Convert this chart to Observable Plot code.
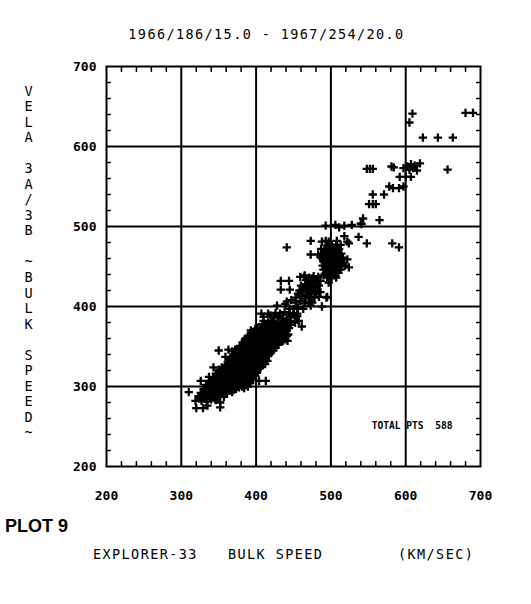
<!DOCTYPE html>
<html><head><meta charset="utf-8">
<script src="https://cdn.jsdelivr.net/npm/d3@7"></script>
<script src="https://cdn.jsdelivr.net/npm/@observablehq/plot@0.6"></script>
<style>
body{margin:0;background:#fff;width:531px;height:604px;position:relative;overflow:hidden;font-family:"DejaVu Sans Mono",monospace;color:#000}
.t{position:absolute;white-space:pre;line-height:1}
.m{font-size:13.5px;letter-spacing:1.4px}
</style></head><body>
<div class="t m" style="left:0;width:533px;top:28px;text-align:center">1966/186/15.0 - 1967/254/20.0</div>
<div id="chart" style="position:absolute;left:0;top:50px"></div>
<div class="t" style="left:5px;top:516px;font:bold 18px 'Liberation Sans',Arial,sans-serif">PLOT 9</div>
<div class="t m" style="left:93px;top:548px">EXPLORER-33</div>
<div class="t m" style="left:228px;top:548px">BULK SPEED</div>
<div class="t m" style="left:398px;top:548px">(KM/SEC)</div>
<script>
const title = "1966/186/15.0 - 1967/254/20.0";
const yLabelChars = ["V","E","L","A","","3","A","/","3","B","","~","B","U","L","K","","S","P","E","E","D","~"];
const totalLabel = "TOTAL PTS  588";
const majorTicks = [200, 300, 400, 500, 600, 700];
const gridValues = [300, 400, 500, 600];
const minorTicks = [220,240,260,280,320,340,360,380,420,440,460,480,520,540,560,580,620,640,660,680];

// [Explorer-33 speed, Vela speed] in km/sec
const sparseHigh = [
  [609,641],[605,630],[680,642],[690,642],[623,611],[643,611],[663,611],[656,571],
  [548,572],[552,572],[556,572],[581,575],[584,574],[597,573],[602,575],[607,578],[612,576],[619,579],[615,570],[605,571],[610,573],
  [592,562],[600,562],[607,562],[578,550],[583,548],[591,548],[597,550],
  [556,540],[571,540],[551,528],[556,528],[560,528],[543,510],[540,504],[565,508],
  [493,501],[506,502],[511,499],[518,501],[528,502],[541,503]
];
const upperEdge = [
  [582,479],[591,474],[537,487],[548,479],[518,488],[524,479],[522,481],[441,474],
  [473,482],[488,481],[493,482],[497,481],[508,482],[473,465],[483,465],[487,472],[486,462],[524,449],[522,459],[497,430]
];
const upperCluster = [
  [495,436],[501,437],[507,436],
  [492,441],[498,442],[504,441],[510,442],
  [490,446],[496,447],[502,446],[508,447],[513,446],
  [489,451],[495,452],[501,451],[507,452],[513,451],[519,451],
  [490,456],[496,457],[502,456],[508,457],[514,456],
  [492,461],[498,462],[504,461],[510,462],[516,461],
  [490,466],[496,467],[502,466],[508,467],[514,466],
  [493,471],[499,472],[505,471],[511,472],
  [495,476],[501,477],[507,476],[513,477]
];
const upperFill = [
  [498,439],[504,439],
  [495,444],[501,444],[507,444],
  [493,449],[499,449],[505,449],[511,449],
  [492,454],[498,454],[504,454],[510,454],[516,454],
  [489,459],[495,459],[501,459],[507,459],[513,459],
  [493,464],[499,464],[505,464],[511,464],
  [491,469],[497,469],[503,469],[509,469],
  [497,474],[503,474],[509,474]
];
const midCluster = [
  [407,391],[416,391],[426,392],[432,391],[438,393],[444,390],[450,392],[455,391],
  [428,401],[439,403],[445,397],[450,397],[456,398],[463,397],[473,401],[488,400],
  [441,406],[447,408],[453,405],[459,407],[465,404],[471,406],[475,405],
  [453,411],[460,413],[466,410],[472,412],[478,411],[484,412],[494,411],[495,412],
  [456,416],[462,418],[468,415],[474,417],[480,416],[486,418],
  [433,421],[445,421],[458,420],[464,422],[470,421],[476,423],[482,420],
  [460,426],[466,428],[472,425],[478,427],[484,426],
  [433,432],[444,432],[470,430],[480,430],[486,432],[475,435],[464,437],
  [459,437],[465,439],[471,436],[477,438],[483,437],[490,439],
  [463,423],[469,424],[475,420],[481,424],[467,433],[473,432],[479,434]
];
const band = [
  [320,273],[329,273],[335,276],[352,274],
  [319,282],[327,282],[334,281],[340,284],[346,283],[352,280],
  [323,288],[330,287],[337,289],[344,286],[351,288],[357,287],
  [310,293],[326,292],[333,291],[340,293],[347,292],[354,294],[361,291],[368,293],
  [330,297],[336,299],[342,296],[349,298],[356,297],[363,299],[370,296],[377,299],[384,298],
  [333,302],[339,304],[343,305],[346,301],[352,303],[359,302],[366,304],[372,301],[379,303],[386,302],[392,304],
  [326,307],[337,307],[343,309],[350,306],[356,308],[362,307],[369,309],[375,306],[382,308],[388,307],[395,309],[404,307],[413,307],
  [337,312],[343,311],[349,313],[355,310],[361,312],[368,311],[374,313],[381,310],[387,312],[393,311],[399,313],
  [346,316],[352,318],[358,315],[364,317],[371,316],[377,318],[383,315],[388,318],[395,316],[401,317],
  [350,321],[356,323],[362,320],[368,322],[375,321],[381,323],[387,320],[393,322],[399,321],[405,323],
  [343,324],[354,324],[359,326],[365,325],[371,327],[377,324],[383,326],[390,325],[396,327],[402,324],[408,326],
  [362,330],[368,332],[374,329],[380,331],[386,330],[392,332],[398,329],[404,331],[410,330],[415,332],
  [359,337],[366,335],[372,337],[378,334],[384,336],[390,335],[396,337],[402,334],[408,336],[413,335],
  [370,340],[376,342],[382,339],[388,341],[394,340],[400,342],[406,339],[412,341],[417,340],[414,343],
  [350,345],[363,346],[372,346],[368,344],[375,347],[381,345],[387,344],[393,346],[399,345],[405,347],[411,344],[417,346],[423,345],
  [379,350],[385,349],[391,351],[397,350],[403,352],[409,349],[415,351],[421,350],[427,352],
  [382,355],[388,357],[394,354],[400,356],[406,355],[412,357],[418,354],[424,356],[430,355],[436,357],[442,357],
  [386,360],[392,362],[398,359],[404,361],[410,360],[416,362],[422,359],[428,361],[434,360],[441,363],
  [395,365],[401,367],[407,364],[413,366],[419,365],[425,367],[431,364],[437,366],[443,365],
  [393,370],[399,372],[405,369],[411,371],[417,370],[423,372],[429,369],[435,371],[441,370],
  [406,374],[412,376],[418,375],[424,377],[430,374],[436,376],[442,375],[446,377],[461,375],
  [410,382],[416,380],[422,382],[428,379],[434,381],[440,380],[446,382],[452,380],[457,382],
  [410,387],[419,389],[424,386],[430,388],[436,385],[441,383],[446,387],[453,386],[455,388]
];
const bandFill = [
  [324,285],[331,285],[338,286],[345,285],
  [329,290],[336,290],[343,290],[350,290],[357,290],
  [333,295],[339,294],[346,295],[352,296],[359,295],[366,296],[373,297],
  [336,300],[343,299],[349,300],[356,300],[362,300],[369,299],[375,300],[381,300],[389,300],
  [340,305],[347,304],[353,305],[360,305],[366,306],[372,304],[379,305],[385,305],[391,306],
  [346,310],[352,310],[358,309],[365,310],[371,310],[378,309],[384,310],[390,309],[396,309],
  [349,314],[355,314],[361,313],[367,314],[374,314],[380,313],[386,314],[392,314],[398,315],
  [353,319],[359,318],[365,319],[372,319],[378,319],[384,318],[390,319],[396,319],[402,320],
  [359,322],[365,323],[371,323],[378,322],[384,323],[390,322],[396,323],[402,322],
  [365,328],[371,328],[377,327],[383,328],[389,328],[395,327],[401,328],[407,328],[412,328],
  [365,333],[371,333],[377,332],[383,333],[389,333],[395,333],[401,332],[407,333],[412,333],
  [369,338],[375,338],[381,337],[387,338],[393,338],[399,338],[405,337],[411,338],[416,338],
  [373,343],[379,343],[385,343],[391,343],[397,343],[403,343],[409,343],[415,343],[420,343],
  [382,348],[388,348],[394,348],[400,348],[406,348],[412,347],[418,348],[424,348],
  [382,352],[388,352],[394,352],[400,353],[406,352],[412,352],[418,352],[424,353],[430,352],
  [385,358],[391,359],[397,357],[403,358],[409,358],[415,359],[421,357],[427,358],[433,358],[439,359],
  [389,363],[395,364],[401,362],[407,363],[413,363],[419,364],[425,362],[431,363],[437,363],
  [396,368],[402,369],[408,367],[414,368],[420,368],[426,369],[432,367],[438,368],
  [402,373],[408,373],[414,373],[420,374],[426,372],[432,373],[438,373],[444,373],
  [408,378],[414,378],[420,379],[426,377],[432,378],[438,378],[444,379]
];

const points = [...sparseHigh, ...upperEdge, ...upperCluster, ...upperFill, ...midCluster, ...band, ...bandFill].map(([x, y]) => ({x, y}));
const yLabel = yLabelChars.map(c => c === "" ? "\u00a0" : c).join("\n");
const txt = {fontFamily: "'DejaVu Sans Mono', monospace"};

const chart = Plot.plot({
  width: 531, height: 460,
  marginTop: 16, marginBottom: 44, marginLeft: 106, marginRight: 51,
  x: {domain: [200, 700]},
  y: {domain: [200, 700]},
  style: {fontFamily: "'DejaVu Sans Mono', monospace", color: "black", background: "white", overflow: "visible"},
  marks: [
    Plot.gridX(gridValues, {stroke: "black", strokeOpacity: 1, strokeWidth: 2}),
    Plot.gridY(gridValues, {stroke: "black", strokeOpacity: 1, strokeWidth: 2}),
    Plot.axisX(minorTicks, {anchor: "bottom", tickSize: -5, strokeWidth: 1.5, tickFormat: () => "", label: null}),
    Plot.axisX(minorTicks, {anchor: "top", tickSize: -5, strokeWidth: 1.5, tickFormat: () => "", label: null}),
    Plot.axisY(minorTicks, {anchor: "left", tickSize: -5, strokeWidth: 1.5, tickFormat: () => "", label: null}),
    Plot.axisY(minorTicks, {anchor: "right", tickSize: -5, strokeWidth: 1.5, tickFormat: () => "", label: null}),
    Plot.dot(points, {x: "x", y: "y", symbol: "plus", r: 2.8, stroke: "black", strokeWidth: 2.3}),
    Plot.frame({stroke: "black", strokeWidth: 2}),
    Plot.axisX(majorTicks, {anchor: "bottom", tickSize: 0, tickPadding: 24, fontWeight: "bold", fontSize: 13, label: null, ...txt}),
    Plot.axisY(majorTicks, {anchor: "left", tickSize: 0, tickPadding: 10, fontWeight: "bold", fontSize: 13, label: null, ...txt}),
    Plot.text([yLabel], {text: d => d, frameAnchor: "left", dx: -82, dy: -5, lineAnchor: "middle", lineHeight: 1.15, fontSize: 13.5, ...txt}),
    Plot.text([totalLabel], {text: d => d, frameAnchor: "bottom-right", textAnchor: "end", dx: -28, dy: -38, fontWeight: "bold", fontSize: 9.6, ...txt})
  ]
});
document.getElementById("chart").appendChild(chart);
</script>
</body></html>
